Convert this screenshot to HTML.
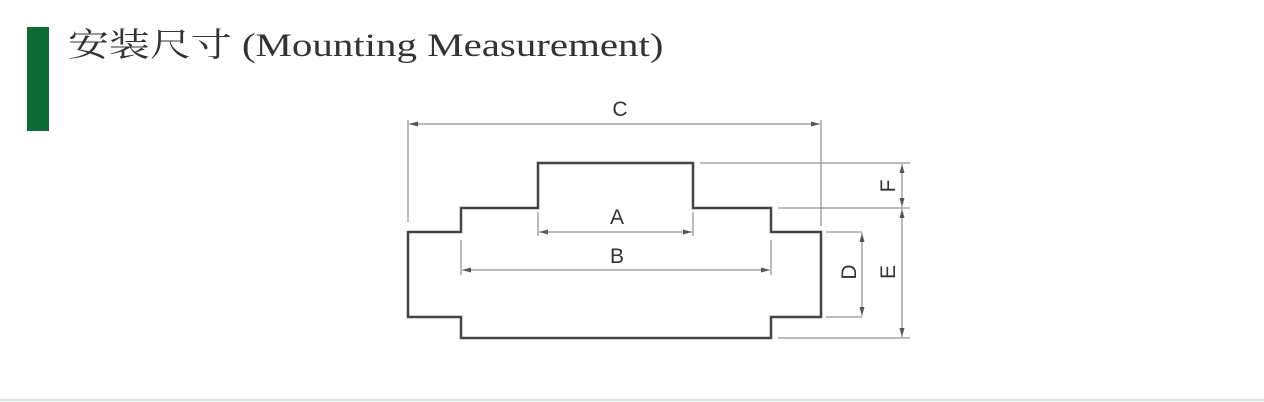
<!DOCTYPE html>
<html><head><meta charset="utf-8"><style>
body{margin:0;width:1264px;height:402px;background:#fff;overflow:hidden;position:relative}
.bar{position:absolute;left:27px;top:27px;width:22px;height:104px;background:#0b6b33}
.t{position:absolute;left:68px;top:19px;font:33px "Liberation Serif","Noto Serif CJK SC",serif;color:#333;white-space:nowrap;transform-origin:0 0;transform:scaleX(1.24)}
.bl{position:absolute;left:0;top:399px;width:1264px;height:2px;background:#d6e6dc}
svg{position:absolute;left:0;top:0}
</style></head><body>
<div class="bar"></div>
<div class="t">安装尺寸 (Mounting Measurement)</div>
<div class="bl"></div>
<svg width="1264" height="402">
<path d="M408,232H461V208H538V163H693V208H771V232H821V317H771V338H461V317H408Z" fill="none" stroke="#444" stroke-width="2.5"/>
<g stroke="#777" stroke-width="1" fill="none">
<path d="M408,120V222M821,120V226M538,212V236M693,212V236M461,240V275M771,240V275M700,163H910M778,208H910M778,338H910M826,232H862M826,317H862"/>
<path d="M409,124H820M539,232H692M462,270H770M902,164V207M902,209V337M862,233V316"/>
</g>
<g fill="#555">
<path d="M409,124l9,-2.5v5z M820,124l-9,-2.5v5z"/>
<path d="M539,232l9,-2.5v5z M692,232l-9,-2.5v5z"/>
<path d="M462,270l9,-2.5v5z M770,270l-9,-2.5v5z"/>
<path d="M902,164l-2.5,9h5z M902,207l-2.5,-9h5z"/>
<path d="M902,209l-2.5,9h5z M902,337l-2.5,-9h5z"/>
<path d="M862,233l-2.5,9h5z M862,316l-2.5,-9h5z"/>
</g>
<g font-family="Liberation Sans,sans-serif" font-size="21" fill="#333" text-anchor="middle">
<text x="620" y="116">C</text>
<text x="617" y="224">A</text>
<text x="617" y="263">B</text>
<text transform="translate(856,272) rotate(-90)">D</text>
<text transform="translate(895,272) rotate(-90)">E</text>
<text transform="translate(895,186) rotate(-90)">F</text>
</g>
</svg>
</body></html>
